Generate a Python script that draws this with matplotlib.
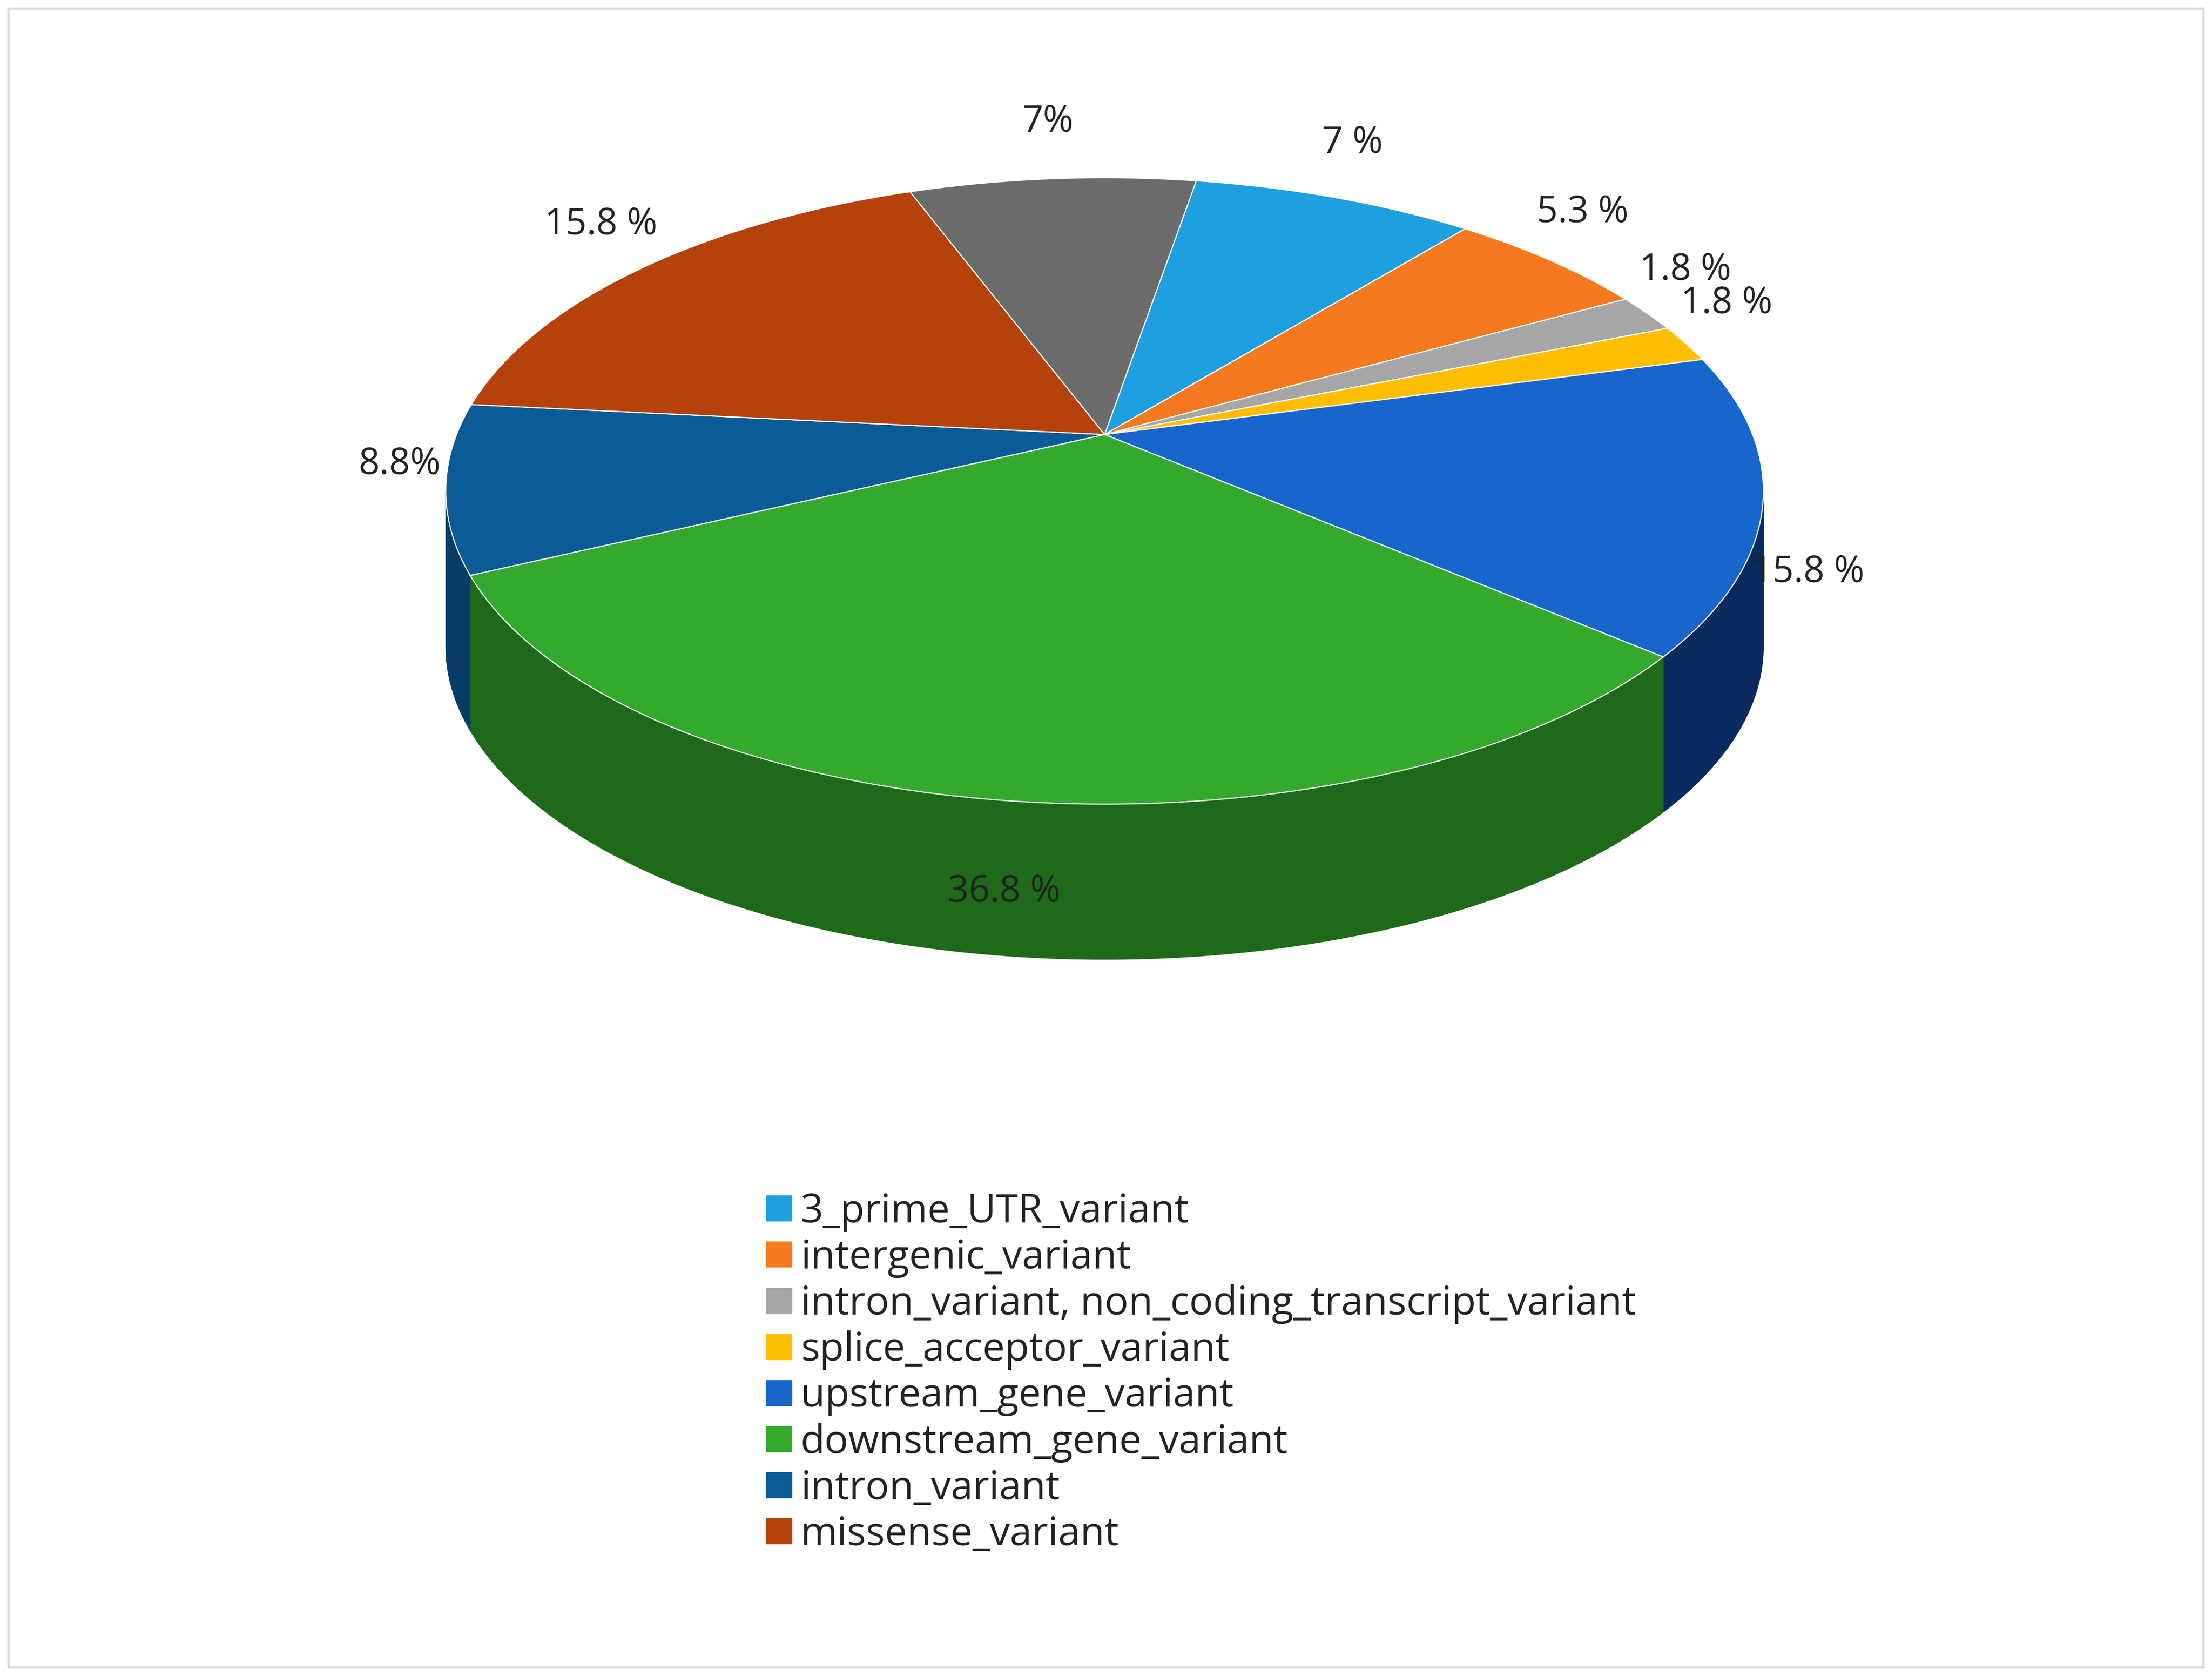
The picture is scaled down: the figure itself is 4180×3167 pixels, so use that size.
import numpy as np
import matplotlib.pyplot as plt
from matplotlib.patches import Polygon, Rectangle
from matplotlib.lines import Line2D

plt.rcParams['font.family'] = ['Open Sans', 'DejaVu Sans']

# slice data, clockwise from the top
labels = ["3_prime_UTR_variant", "intergenic_variant",
          "intron_variant, non_coding_transcript_variant", "splice_acceptor_variant",
          "upstream_gene_variant", "downstream_gene_variant", "intron_variant",
          "missense_variant", None]
values = [7, 5.3, 1.8, 1.8, 15.8, 36.8, 8.8, 15.8, 7]
pct_text = ["7 %", "5.3 %", "1.8 %", "1.8 %", "15.8 %", "36.8 %", "8.8%", "15.8 %", "7%"]
colors = ["#1ea0e0", "#f57a1f", "#a6a6a6", "#ffbf00", "#1766cc",
          "#33aa2e", "#0b5b96", "#b5420a", "#6b6b6b"]
sides = ["#117ab0", "#b8560d", "#777777", "#c08f00", "#0b2a60",
         "#1e6a1a", "#073c66", "#7d2c06", "#444444"]

fig = plt.figure(figsize=(41.8, 31.67), dpi=100)
ax = fig.add_axes([0, 0, 1, 1])
ax.set_xlim(0, 1568)
ax.set_ylim(1188, 0)
ax.axis('off')
ax.add_patch(Rectangle((6, 6), 1556, 1176, fill=False, ec="#d0d8e0", lw=3))

cx, cy, rx, ry, depth = 783, 348, 467, 222, 110
apex_y = 308
total = sum(values)
start = 82.0

bounds = []
t = start
for v in values:
    bounds.append((t - 360 * v / total, t))
    t -= 360 * v / total

# side walls
for (a0, a1), sc in zip(bounds, sides):
    ts = np.radians(np.linspace(a0, a1, 400))
    ts = ts[np.sin(ts) <= 0]
    if len(ts) < 2:
        continue
    xs = cx + rx * np.cos(ts)
    ys = cy - ry * np.sin(ts)
    pts = np.column_stack([np.r_[xs, xs[::-1]], np.r_[ys, ys[::-1] + depth]])
    ax.add_patch(Polygon(pts, closed=True, fc=sc, ec=sc, lw=1))

# top faces
for (a0, a1), c in zip(bounds, colors):
    ts = np.radians(np.linspace(a0, a1, 300))
    xs = np.r_[cx, cx + rx * np.cos(ts)]
    ys = np.r_[apex_y, cy - ry * np.sin(ts)]
    ax.add_patch(Polygon(np.column_stack([xs, ys]), closed=True, fc=c, ec="white", lw=1.5))

# percentage labels
for (a0, a1), txt in zip(bounds, pct_text):
    m = np.radians((a0 + a1) / 2)
    lx = cx + rx * 1.07 * np.cos(m)
    ly = cy - ry * 1.1 * np.sin(m) - 18
    if np.sin(m) < 0:
        ly += depth * 0.55
    ax.text(lx, ly, txt, fontsize=50, ha='center', va='center', color="#222222")

# legend
handles = [Line2D([], [], marker='s', ls='none', ms=34, color=c, label=l)
           for l, c in zip(labels, colors) if l is not None]
fig.legend(handles=handles, loc='upper left', bbox_to_anchor=(0.327, 0.31),
           frameon=False, fontsize=54, handletextpad=0.05, labelspacing=0.16,
           handlelength=1.0, labelcolor="#222222")

plt.savefig("out.png", dpi=100)
